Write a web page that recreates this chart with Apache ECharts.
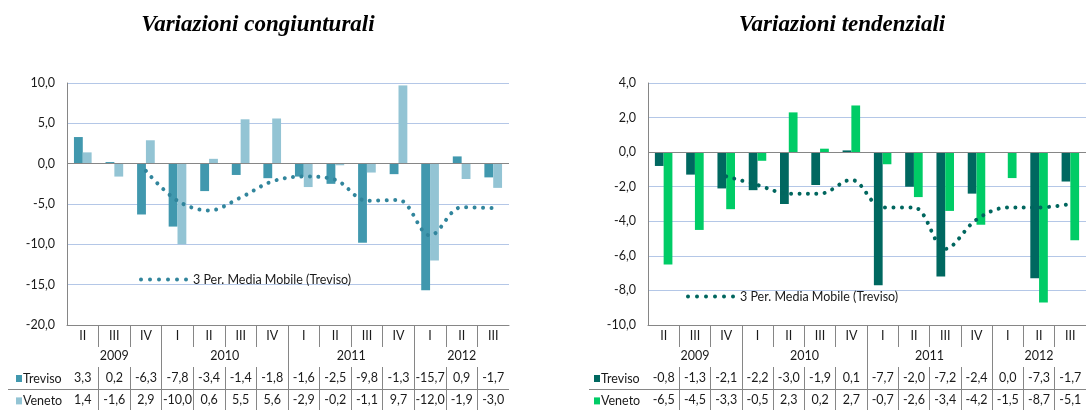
<!DOCTYPE html>
<html>
<head>
<meta charset="utf-8">
<script src="https://cdn.jsdelivr.net/npm/echarts@6/dist/echarts.min.js"></script>
<style>
html,body{margin:0;padding:0;background:#fff;}
#c{width:1086px;height:410px;}
</style>
</head>
<body>
<div id="c"></div>
<script>
// ---- data ----
const quarters = ['II','III','IV','I','II','III','IV','I','II','III','IV','I','II','III'];
const years = ['2009','2010','2011','2012'];
const yearSpans = [3,4,4,3];

const congTreviso = [3.3,0.2,-6.3,-7.8,-3.4,-1.4,-1.8,-1.6,-2.5,-9.8,-1.3,-15.7,0.9,-1.7];
const congVeneto  = [1.4,-1.6,2.9,-10.0,0.6,5.5,5.6,-2.9,-0.2,-1.1,9.7,-12.0,-1.9,-3.0];
const congMA      = [null,null,-0.9,-4.6,-5.8,-4.2,-2.2,-1.6,-2.0,-4.6,-4.5,-8.9,-5.4,-5.5];

const tendTreviso = [-0.8,-1.3,-2.1,-2.2,-3.0,-1.9,0.1,-7.7,-2.0,-7.2,-2.4,0.0,-7.3,-1.7];
const tendVeneto  = [-6.5,-4.5,-3.3,-0.5,2.3,0.2,2.7,-0.7,-2.6,-3.4,-4.2,-1.5,-8.7,-5.1];
const tendMA      = [null,null,-1.4,-1.9,-2.4,-2.4,-1.6,-3.2,-3.2,-5.6,-3.9,-3.2,-3.2,-3.0];

const maLabel = '3 Per. Media Mobile (Treviso)';

// ---- helpers ----
const FONT = 'Lato';
const FS = 12.5;
const TXT = '#1a1a1a';
const AXIS = '#868686';
const fmt = v => v.toFixed(1).replace('.', ',');
const n = quarters.length;
const yearCenters = [], yearBounds = [];
let acc = 0;
yearSpans.forEach((s, i) => { yearCenters.push(acc + s / 2); acc += s; if (i < yearSpans.length - 1) yearBounds.push(acc); });
const innerBounds = quarters.slice(1).map((q, i) => i + 1);
const cellCenters = quarters.map((q, i) => i + 0.5);

const charts = [
  { grid: { left: 67, top: 83, width: 442, height: 242 }, yMin: -20, yMax: 10, yInt: 5,
    tre: congTreviso, ven: congVeneto, ma: congMA,
    cTre: '#4198AE', cVen: '#93C4D4', cMA: '#31859C',
    names: ['Treviso', 'Veneto', maLabel],
    title: 'Variazioni congiunturali', titleX: 258,
    legX: 16, maLegX: 139, maLegY: 272, lineX1: 8 },
  { grid: { left: 648, top: 83, width: 442, height: 242 }, yMin: -10, yMax: 4, yInt: 2,
    tre: tendTreviso, ven: tendVeneto, ma: tendMA,
    cTre: '#006860', cVen: '#00CC66', cMA: '#00665E',
    names: ['Treviso ', 'Veneto ', maLabel + ' '],
    title: 'Variazioni tendenziali', titleX: 842,
    legX: 594, maLegX: 686, maLegY: 289, lineX1: 589 }
];

const option = { animation: false, grid: [], xAxis: [], yAxis: [], series: [], legend: [], graphic: [] };

const valAxisBase = (gi) => ({
  type: 'value', gridIndex: gi, position: 'bottom', min: 0, max: n,
  splitLine: { show: false }, axisLine: { show: false, onZero: false },
  axisLabel: { show: false }, axisTick: { show: false }
});

const rowLegend = (name, left, top) => ({
  left: left, top: top, itemWidth: 6, itemHeight: 7, padding: 0,
  icon: 'rect', selectedMode: false, data: [name],
  formatter: nm => nm.trim(),
  textStyle: { color: TXT, fontFamily: FONT, fontSize: FS, lineHeight: 15, padding: [0, 0, 0, -4] }
});

charts.forEach((c, gi) => {
  option.grid.push(Object.assign({ containLabel: false }, c.grid));
  const xb = option.xAxis.length;
  // category axis for bars + quarter labels
  option.xAxis.push({
    type: 'category', gridIndex: gi, data: quarters, position: 'bottom',
    axisLine: { show: true, onZero: false, lineStyle: { color: AXIS, width: 1 } },
    axisTick: { show: false },
    axisLabel: { interval: 0, margin: 4, color: TXT, fontFamily: FONT, fontSize: FS }
  });
  // quarter separators
  option.xAxis.push(Object.assign(valAxisBase(gi), {
    axisTick: { show: true, customValues: innerBounds, length: 22, lineStyle: { color: AXIS, width: 1 } }
  }));
  // years
  option.xAxis.push(Object.assign(valAxisBase(gi), {
    axisTick: { show: true, customValues: yearBounds, length: 85, lineStyle: { color: AXIS, width: 1 } },
    axisLabel: { show: true, customValues: yearCenters, margin: 24, color: TXT, fontFamily: FONT, fontSize: FS,
      formatter: v => years[yearCenters.indexOf(v)] }
  }));
  // Treviso row
  option.xAxis.push(Object.assign(valAxisBase(gi), {
    offset: 42,
    axisTick: { show: true, customValues: innerBounds, length: 43, lineStyle: { color: AXIS, width: 1 } },
    axisLabel: { show: true, customValues: cellCenters, margin: 4, color: TXT, fontFamily: FONT, fontSize: FS,
      formatter: v => fmt(c.tre[Math.floor(v)]) }
  }));
  // Veneto row
  option.xAxis.push(Object.assign(valAxisBase(gi), {
    offset: 64.5,
    axisLabel: { show: true, customValues: cellCenters, margin: 4, color: TXT, fontFamily: FONT, fontSize: FS,
      formatter: v => fmt(c.ven[Math.floor(v)]) }
  }));

  option.yAxis.push({
    type: 'value', gridIndex: gi, min: c.yMin, max: c.yMax, interval: c.yInt,
    axisLine: { show: true, onZero: false, lineStyle: { color: AXIS, width: 1 } },
    axisTick: { show: false },
    axisLabel: { margin: 12, color: TXT, fontFamily: FONT, fontSize: FS, formatter: fmt },
    splitLine: { show: true, lineStyle: { color: '#B4C7E7', width: 1 } }
  });

  option.series.push({
    name: c.names[0], type: 'bar', xAxisIndex: xb, yAxisIndex: gi, data: c.tre,
    itemStyle: { color: c.cTre }, barGap: '0%', barCategoryGap: '44%',
    markLine: { silent: true, symbol: 'none', label: { show: false },
      lineStyle: { color: AXIS, type: 'solid', width: 1 }, data: [{ yAxis: 0 }] }
  });
  option.series.push({
    name: c.names[1], type: 'bar', xAxisIndex: xb, yAxisIndex: gi, data: c.ven,
    itemStyle: { color: c.cVen }, barGap: '0%', barCategoryGap: '44%'
  });
  option.series.push({
    name: c.names[2], type: 'line', xAxisIndex: xb, yAxisIndex: gi, data: c.ma,
    smooth: 0.35, symbol: 'none', z: 5,
    itemStyle: { color: c.cMA },
    lineStyle: { color: c.cMA, width: 4, type: [0.01, 8.4], cap: 'round' }
  });

  option.legend.push(rowLegend(c.names[0], c.legX, 371));
  option.legend.push(rowLegend(c.names[1], c.legX, 393.4));
  option.legend.push({
    left: c.maLegX, top: c.maLegY, itemWidth: 49, itemHeight: 4.5, padding: 0, selectedMode: false,
    icon: 'path://M0,2a2,2 0 1,0 4,0a2,2 0 1,0 -4,0M9,2a2,2 0 1,0 4,0a2,2 0 1,0 -4,0M18,2a2,2 0 1,0 4,0a2,2 0 1,0 -4,0M27,2a2,2 0 1,0 4,0a2,2 0 1,0 -4,0M36,2a2,2 0 1,0 4,0a2,2 0 1,0 -4,0M45,2a2,2 0 1,0 4,0a2,2 0 1,0 -4,0',
    data: [c.names[2]],
    formatter: nm => nm.trim(),
    textStyle: { color: TXT, fontFamily: FONT, fontSize: FS, lineHeight: 15 }
  });

  option.graphic.push({
    type: 'text', x: c.titleX, y: 25, silent: true,
    style: { text: c.title, textAlign: 'center', textVerticalAlign: 'middle',
      font: 'italic bold 23px "Liberation Serif"', fill: '#000' }
  });
  option.graphic.push({
    type: 'line', silent: true,
    shape: { x1: c.lineX1, y1: 389.5, x2: c.grid.left + c.grid.width, y2: 389.5 },
    style: { stroke: AXIS, lineWidth: 1 }
  });
});

const chart = echarts.init(document.getElementById('c'), null, { renderer: 'canvas' });
chart.setOption(option);
</script>
</body>
</html>
